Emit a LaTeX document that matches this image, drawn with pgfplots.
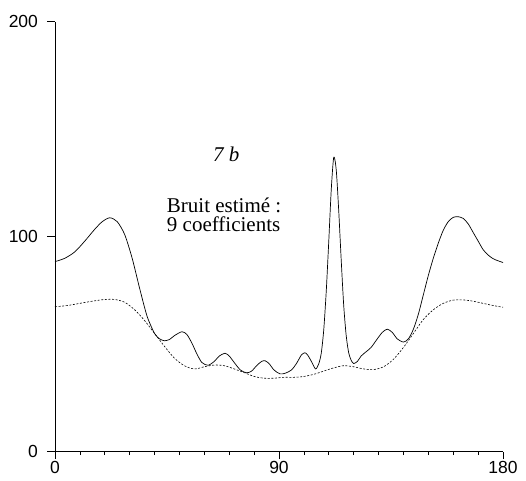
\documentclass[border=0pt]{standalone}
\usepackage{pgfplots}
\pgfplotsset{compat=1.18}
\usepackage{fontspec}
\setmainfont{Liberation Serif}
\newfontfamily\ticksans{Liberation Sans}
\begin{document}
\begin{tikzpicture}
\path[use as bounding box] (-55pt,-28.3pt) rectangle (471pt,451.7pt);
\begin{axis}[
  at={(0,0)}, anchor=south west,
  scale only axis, width=448pt, height=430pt,
  xmin=0, xmax=180, ymin=0, ymax=200,
  axis x line=bottom, axis y line=left,
  axis line style={-, line width=0.8pt},
  xtick={0,90,180}, ytick={0,100,200},
  minor xtick={10,20,30,40,50,60,70,80,100,110,120,130,140,150,160,170},
  tick align=outside,
  major tick length=7.5pt, minor tick length=3.5pt,
  tick style={black, line width=0.7pt},
  /pgf/number format/assume math mode=true,
  tick label style={font=\ticksans\fontsize{17.5}{19}\selectfont},
  yticklabel style={xshift=-6pt},
  xticklabel style={yshift=1pt},
  clip=false,
]
\addplot[black, line width=0.7pt, smooth, tension=0.45] coordinates {
(0,88.4) (4,90) (8,93) (12,98) (16,103.5) (19,107) (22,108.8) (25,107) (28,101)
(31,90) (34,76) (37,63) (40,55) (42,52.5) (44,51.6) (46,52.2) (48,54) (51,55.8)
(53,54.5) (55,50.5) (57,45.5) (59,41.5) (61.5,40.2) (64,42) (66,44.5) (68.3,45.8)
(70,44.5) (72,41.5) (74.5,38) (77,36.7) (79,37.5) (81,40) (83,42) (84.4,42.3)
(86,41) (88,38) (90.4,36.2) (92.5,36.5) (95,38) (97,41) (99,45) (100.4,46)
(101.5,45) (103,42) (104.7,38.5) (106,41) (107,46) (108,57) (109,75) (110,98)
(111,122) (112,137) (113,131) (114,112) (115,89) (116,68) (117,54) (118,46)
(119,42.5) (120,41) (121.5,42) (123,44.5) (125,46.5) (127,48.5) (129.5,52.5)
(131.5,55.5) (133.5,57) (135.5,55.5) (137.5,52.5) (140,51) (142,52.5) (144,57)
(146,64) (148,73) (150,82) (152,90) (154,97) (156,103) (158,107) (160,109)
(162,109.3) (164,108.5) (166,106) (168,102) (170,98) (172,94) (174,91.5)
(176,89.8) (178,88.8) (180,88)
};
\addplot[black, line width=0.6pt, dash pattern=on 2pt off 1.6pt, smooth] coordinates {
(0,67.4) (5,68) (10,69) (15,70) (20,70.8) (24,70.8) (28,69.5) (32,66) (36,61)
(40,55) (44,49) (48,43.5) (52,40) (56,38.5) (60,39.5) (64,40.3) (68,40) (72,38.5)
(76,36.8) (80,35) (84,34.2) (88,34.2) (92,34.6) (96,34.6) (100,35) (104,36)
(108,37.5) (112,39) (116,40) (120,39.5) (124,38.5) (128,38.2) (132,39.5)
(136,43) (140,48.5) (144,55) (148,61.5) (152,66) (156,69) (160,70.5) (164,70.6)
(168,70) (172,69) (176,68) (180,67.2)
};
\node[anchor=base west, inner sep=0pt, font=\fontsize{21}{23}\selectfont\itshape] at (axis cs:63.5,135.2) {7 b};
\node[anchor=base west, inner sep=0pt, font=\fontsize{21}{23}\selectfont] at (axis cs:44.9,111.3) {Bruit estimé :};
\node[anchor=base west, inner sep=0pt, font=\fontsize{21}{23}\selectfont] at (axis cs:44.9,102.4) {9 coefficients};
\end{axis}
\end{tikzpicture}
\end{document}
